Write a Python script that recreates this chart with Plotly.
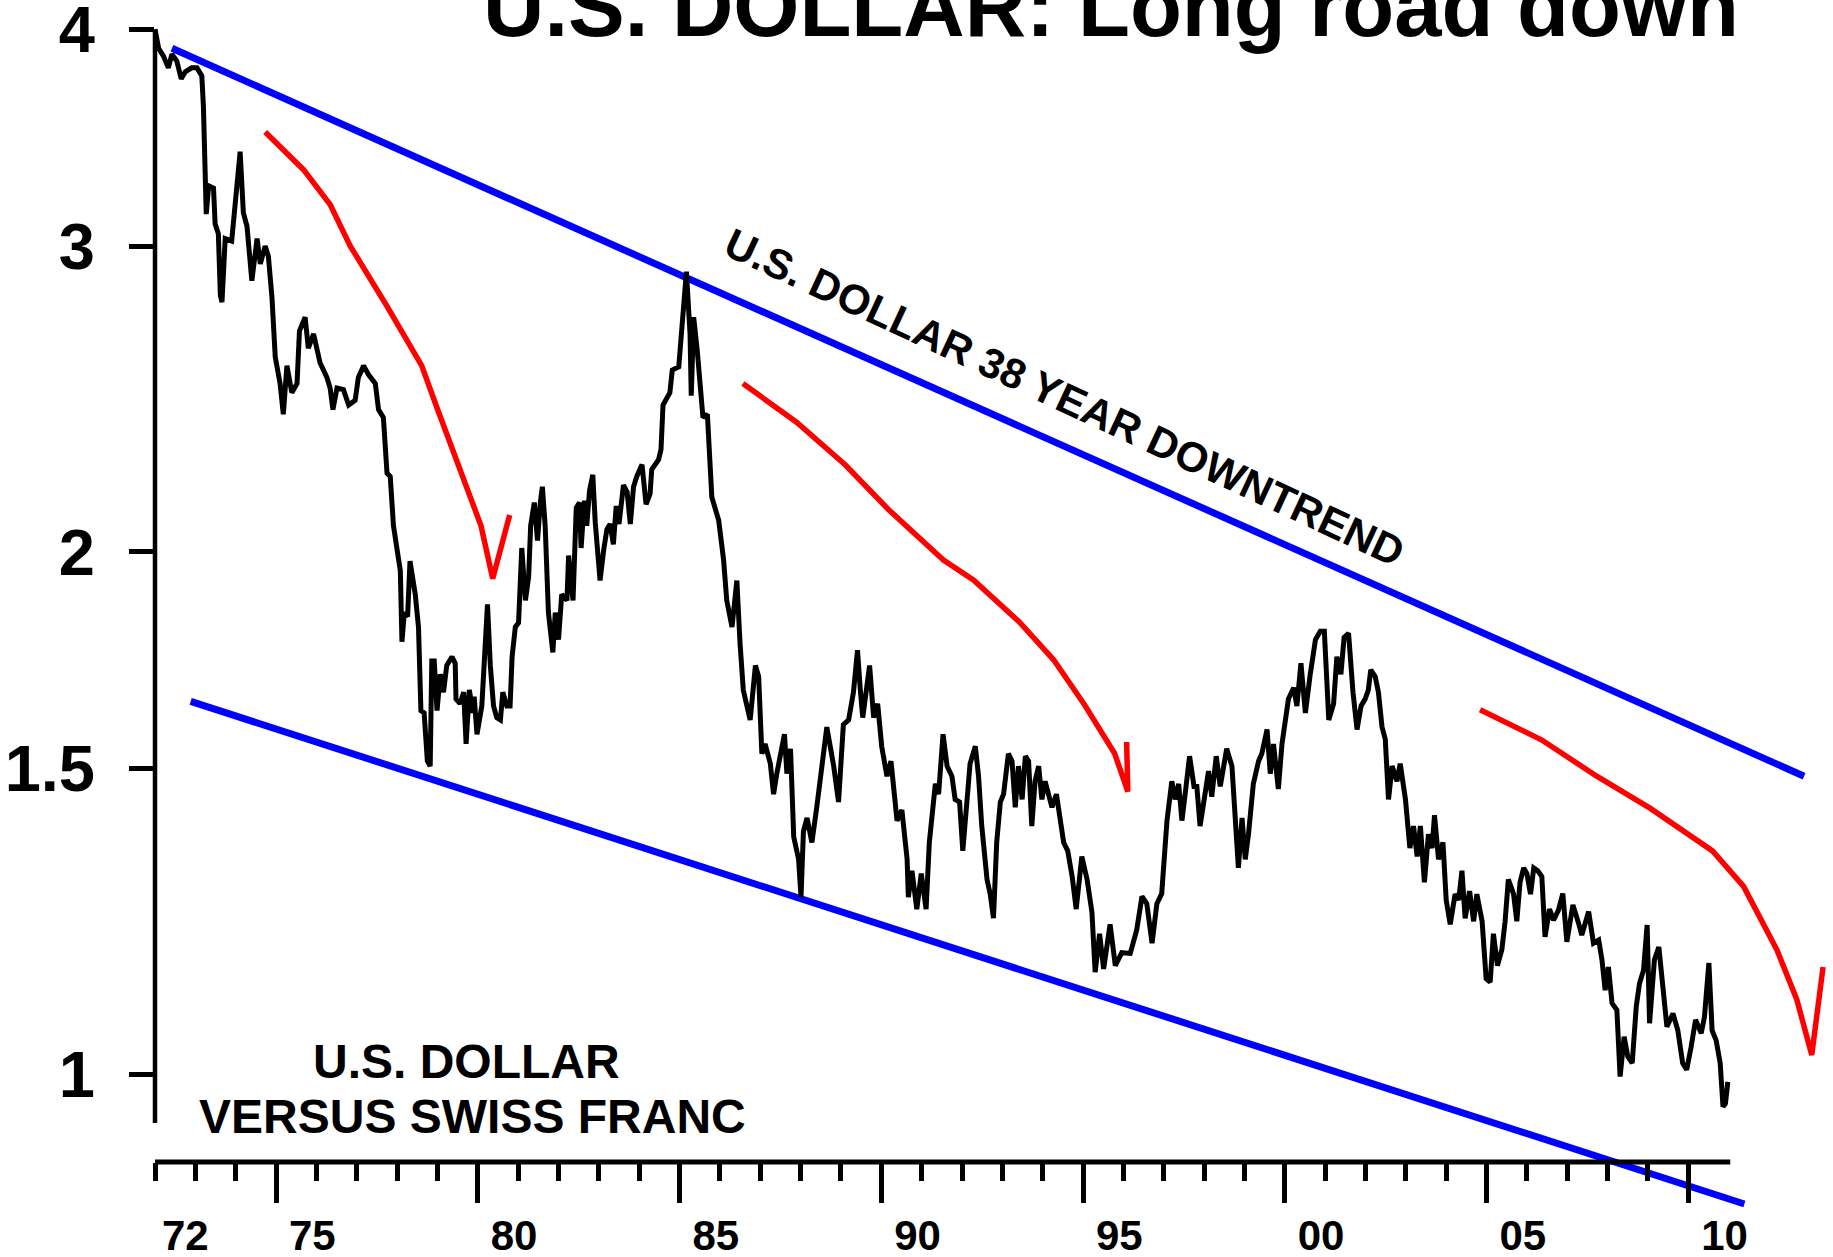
import math
import plotly.graph_objects as go

# ---------------- data ----------------
years = [
    1972.00, 1972.09, 1972.21, 1972.33, 1972.42, 1972.54, 1972.65, 1972.75, 1972.91, 1973.04,
    1973.16, 1973.20, 1973.27, 1973.33, 1973.45, 1973.49, 1973.57, 1973.62, 1973.66, 1973.74,
    1973.90, 1973.99, 1974.11, 1974.19, 1974.28, 1974.40, 1974.53, 1974.61, 1974.73, 1974.81,
    1974.90, 1974.98, 1975.10, 1975.18, 1975.27, 1975.39, 1975.52, 1975.58, 1975.72, 1975.80,
    1975.93, 1976.09, 1976.26, 1976.34, 1976.41, 1976.51, 1976.67, 1976.80, 1976.96, 1977.04,
    1977.17, 1977.29, 1977.46, 1977.54, 1977.66, 1977.75, 1977.83, 1977.91, 1977.99, 1978.08,
    1978.12, 1978.18, 1978.26, 1978.32, 1978.45, 1978.53, 1978.59, 1978.67, 1978.75, 1978.82,
    1978.86, 1978.92, 1978.99, 1979.07, 1979.15, 1979.23, 1979.36, 1979.44, 1979.46, 1979.56,
    1979.65, 1979.71, 1979.79, 1979.88, 1979.91, 1979.98, 1980.10, 1980.16, 1980.24, 1980.31,
    1980.39, 1980.47, 1980.56, 1980.62, 1980.72, 1980.80, 1980.85, 1980.93, 1981.01, 1981.09,
    1981.18, 1981.26, 1981.31, 1981.40, 1981.48, 1981.55, 1981.60, 1981.67, 1981.71, 1981.75,
    1981.86, 1981.92, 1982.00, 1982.08, 1982.21, 1982.25, 1982.36, 1982.44, 1982.52, 1982.56,
    1982.64, 1982.70, 1982.77, 1982.85, 1982.91, 1982.99, 1983.03, 1983.12, 1983.20, 1983.28,
    1983.36, 1983.43, 1983.50, 1983.61, 1983.70, 1983.78, 1983.86, 1983.94, 1984.07, 1984.17,
    1984.27, 1984.31, 1984.48, 1984.54, 1984.59, 1984.76, 1984.82, 1984.98, 1985.09, 1985.17,
    1985.26, 1985.29, 1985.35, 1985.44, 1985.58, 1985.69, 1985.80, 1985.97, 1986.09, 1986.17,
    1986.30, 1986.42, 1986.50, 1986.58, 1986.67, 1986.75, 1986.88, 1986.96, 1987.04, 1987.12,
    1987.25, 1987.33, 1987.41, 1987.50, 1987.60, 1987.66, 1987.75, 1987.83, 1987.95, 1988.01,
    1988.07, 1988.16, 1988.28, 1988.40, 1988.53, 1988.65, 1988.82, 1988.94, 1989.06, 1989.19,
    1989.31, 1989.41, 1989.48, 1989.54, 1989.71, 1989.81, 1989.91, 1990.01, 1990.14, 1990.24,
    1990.39, 1990.51, 1990.64, 1990.67, 1990.76, 1990.88, 1990.99, 1991.11, 1991.19, 1991.28,
    1991.34, 1991.42, 1991.53, 1991.63, 1991.75, 1991.83, 1991.94, 1992.02, 1992.12, 1992.20,
    1992.33, 1992.41, 1992.49, 1992.62, 1992.70, 1992.78, 1992.86, 1992.95, 1993.03, 1993.15,
    1993.24, 1993.32, 1993.40, 1993.49, 1993.57, 1993.65, 1993.73, 1993.81, 1993.90, 1993.98,
    1994.06, 1994.23, 1994.34, 1994.43, 1994.52, 1994.62, 1994.73, 1994.83, 1994.97, 1995.10,
    1995.22, 1995.30, 1995.41, 1995.51, 1995.67, 1995.80, 1995.96, 1996.17, 1996.33, 1996.46,
    1996.58, 1996.71, 1996.83, 1996.95, 1997.08, 1997.20, 1997.28, 1997.37, 1997.45, 1997.53,
    1997.64, 1997.75, 1997.82, 1997.90, 1998.00, 1998.11, 1998.19, 1998.30, 1998.40, 1998.56,
    1998.69, 1998.77, 1998.85, 1998.94, 1999.02, 1999.10, 1999.22, 1999.35, 1999.43, 1999.56,
    1999.64, 1999.72, 1999.84, 1999.93, 2000.01, 2000.09, 2000.22, 2000.30, 2000.40, 2000.51,
    2000.63, 2000.76, 2000.88, 2000.98, 2001.09, 2001.21, 2001.29, 2001.39, 2001.47, 2001.58,
    2001.69, 2001.79, 2001.89, 2001.99, 2002.07, 2002.13, 2002.24, 2002.32, 2002.41, 2002.49,
    2002.57, 2002.66, 2002.78, 2002.86, 2002.99, 2003.10, 2003.19, 2003.28, 2003.36, 2003.46,
    2003.56, 2003.65, 2003.71, 2003.81, 2003.92, 2004.00, 2004.10, 2004.22, 2004.31, 2004.39,
    2004.47, 2004.58, 2004.68, 2004.76, 2004.89, 2004.99, 2005.09, 2005.17, 2005.27, 2005.38,
    2005.46, 2005.54, 2005.67, 2005.75, 2005.83, 2005.92, 2006.00, 2006.09, 2006.17, 2006.27,
    2006.37, 2006.45, 2006.56, 2006.66, 2006.78, 2006.89, 2006.99, 2007.14, 2007.28, 2007.36,
    2007.53, 2007.65, 2007.78, 2007.86, 2007.94, 2008.02, 2008.11, 2008.23, 2008.31, 2008.41,
    2008.50, 2008.61, 2008.71, 2008.79, 2008.89, 2008.98, 2009.04, 2009.16, 2009.27, 2009.37,
    2009.47, 2009.62, 2009.74, 2009.86, 2009.96, 2010.07, 2010.18, 2010.32, 2010.40, 2010.51,
    2010.59, 2010.69, 2010.79, 2010.86, 2010.92, 2010.98,
]
usd_chf = [
    4.00, 3.90, 3.86, 3.80, 3.87, 3.835, 3.745, 3.78, 3.80, 3.80,
    3.76, 3.61, 3.13, 3.25, 3.24, 3.09, 3.05, 2.81, 2.785, 3.03,
    3.02, 3.195, 3.40, 3.135, 3.08, 2.865, 3.03, 2.93, 3.00, 2.96,
    2.80, 2.59, 2.50, 2.40, 2.56, 2.47, 2.50, 2.68, 2.73, 2.62,
    2.67, 2.57, 2.52, 2.485, 2.415, 2.485, 2.48, 2.43, 2.445, 2.52,
    2.56, 2.53, 2.50, 2.415, 2.39, 2.22, 2.21, 2.07, 2.00, 1.95,
    1.775, 1.845, 1.835, 1.975, 1.89, 1.81, 1.62, 1.615, 1.515, 1.505,
    1.73, 1.73, 1.62, 1.70, 1.66, 1.72, 1.74, 1.725, 1.645, 1.635,
    1.66, 1.55, 1.665, 1.615, 1.65, 1.57, 1.63, 1.72, 1.865, 1.72,
    1.63, 1.605, 1.60, 1.66, 1.63, 1.63, 1.74, 1.81, 1.82, 2.01,
    1.875, 1.935, 2.07, 2.135, 2.03, 2.135, 2.18, 2.07, 1.95, 1.845,
    1.75, 1.845, 1.78, 1.89, 1.875, 1.99, 1.875, 2.12, 2.135, 2.01,
    2.14, 2.07, 2.17, 2.215, 2.08, 1.98, 1.925, 2.005, 2.06, 2.075,
    2.02, 2.125, 2.075, 2.185, 2.165, 2.075, 2.18, 2.21, 2.245, 2.13,
    2.16, 2.23, 2.26, 2.29, 2.43, 2.47, 2.545, 2.556, 2.73, 2.90,
    2.67, 2.46, 2.73, 2.61, 2.39, 2.40, 2.15, 2.085, 1.98, 1.875,
    1.81, 1.925, 1.77, 1.665, 1.63, 1.60, 1.72, 1.695, 1.53, 1.55,
    1.51, 1.45, 1.49, 1.525, 1.57, 1.49, 1.54, 1.37, 1.33, 1.265,
    1.38, 1.405, 1.36, 1.425, 1.505, 1.585, 1.505, 1.435, 1.59, 1.60,
    1.66, 1.755, 1.665, 1.605, 1.72, 1.605, 1.635, 1.545, 1.485, 1.515,
    1.40, 1.42, 1.33, 1.265, 1.31, 1.245, 1.305, 1.245, 1.36, 1.44,
    1.47, 1.45, 1.57, 1.505, 1.485, 1.44, 1.435, 1.345, 1.44, 1.51,
    1.545, 1.485, 1.39, 1.295, 1.27, 1.23, 1.36, 1.435, 1.45, 1.53,
    1.515, 1.425, 1.505, 1.44, 1.525, 1.515, 1.39, 1.475, 1.505, 1.44,
    1.475, 1.425, 1.45, 1.41, 1.36, 1.345, 1.30, 1.245, 1.335, 1.295,
    1.24, 1.145, 1.205, 1.15, 1.22, 1.155, 1.175, 1.174, 1.211, 1.266,
    1.254, 1.19, 1.254, 1.271, 1.40, 1.475, 1.44, 1.47, 1.40, 1.45,
    1.525, 1.465, 1.465, 1.39, 1.435, 1.495, 1.445, 1.525, 1.465, 1.54,
    1.505, 1.39, 1.315, 1.405, 1.33, 1.375, 1.47, 1.515, 1.53, 1.58,
    1.49, 1.55, 1.46, 1.55, 1.595, 1.645, 1.67, 1.63, 1.725, 1.615,
    1.70, 1.78, 1.80, 1.80, 1.60, 1.635, 1.74, 1.70, 1.785, 1.795,
    1.66, 1.58, 1.63, 1.645, 1.665, 1.71, 1.695, 1.66, 1.585, 1.56,
    1.44, 1.505, 1.475, 1.51, 1.44, 1.35, 1.39, 1.335, 1.39, 1.29,
    1.375, 1.35, 1.41, 1.33, 1.36, 1.26, 1.22, 1.27, 1.26, 1.31,
    1.23, 1.275, 1.225, 1.27, 1.225, 1.135, 1.13, 1.205, 1.155, 1.18,
    1.225, 1.295, 1.27, 1.225, 1.29, 1.315, 1.305, 1.27, 1.315, 1.31,
    1.30, 1.20, 1.245, 1.227, 1.243, 1.271, 1.192, 1.252, 1.222, 1.203,
    1.241, 1.19, 1.195, 1.164, 1.118, 1.153, 1.099, 1.089, 0.997, 1.051,
    1.024, 1.015, 1.094, 1.128, 1.148, 1.219, 1.07, 1.164, 1.184, 1.128,
    1.065, 1.084, 1.06, 1.015, 1.006, 1.037, 1.075, 1.056, 1.079, 1.159,
    1.06, 1.046, 1.015, 0.958, 0.962, 0.99,
]

upper_trend_years = [1972.42, 2012.87]
upper_trend_vals = [3.90, 1.485]
lower_trend_years = [1972.885, 2011.39]
lower_trend_vals = [1.64, 0.842]

red1_years = [1974.73, 1975.68, 1976.34, 1976.84, 1977.75, 1978.61, 1978.99, 1979.44, 1980.08, 1980.37, 1980.79]
red1_vals = [3.49, 3.32, 3.17, 3.00, 2.77, 2.56, 2.42, 2.27, 2.07, 1.93, 2.10]
red2_years = [1986.57, 1987.90, 1989.11, 1990.17, 1991.54, 1992.29, 1993.42, 1994.27, 1995.04, 1995.78, 1996.11, 1996.08]
red2_vals = [2.50, 2.375, 2.244, 2.116, 1.978, 1.926, 1.822, 1.733, 1.632, 1.531, 1.455, 1.554]
red3_years = [2004.84, 2006.37, 2007.73, 2009.06, 2010.60, 2011.37, 2012.20, 2012.69, 2013.06, 2013.34]
red3_vals = [1.622, 1.558, 1.485, 1.423, 1.345, 1.283, 1.179, 1.104, 1.026, 1.153]

y_tick_vals = [1, 1.5, 2, 3, 4]
y_tick_text = ["1", "1.5", "2", "3", "4"]
x_major_ticks = [1975, 1980, 1985, 1990, 1995, 2000, 2005, 2010]
x_minor_ticks = list(range(1972, 2011))
x_label_pos = [1972.75, 1975.9, 1980.9, 1985.9, 1990.9, 1995.9, 2000.9, 2005.9, 2010.9]
x_label_text = ["72", "75", "80", "85", "90", "95", "00", "05", "10"]

title_text = "U.S. DOLLAR: Long road down"
trend_text = "U.S. DOLLAR 38 YEAR DOWNTREND"
label_line1 = "U.S. DOLLAR"
label_line2 = "VERSUS SWISS FRANC"

# ---------------- layout geometry ----------------
W, H = 1833, 1257
ML, MR, MT, MB = 155, 0, 0, 42
PW = W - ML - MR
PH = H - MT - MB
PX_PER_YEAR = 40.35
X_RANGE = [1972.0, 1972.0 + PW / PX_PER_YEAR]
Y_RANGE = [-0.08105, 0.61888]
AXIS_END_YEAR = 2011.04
Y_AXIS_BOTTOM = 0.9375

FONT = "Liberation Sans, Arial, Helvetica, sans-serif"
BLACK, BLUE, RED = "#000000", "#0000ff", "#ff0000"


def px_x(X):
    return (X - ML) / PW


def px_y(Y):
    return 1 - (Y - MT) / PH


def val_y(v):
    return (math.log10(v) - Y_RANGE[0]) / (Y_RANGE[1] - Y_RANGE[0])


x_axis_pos = px_y(1162)

fig = go.Figure()
fig.add_trace(go.Scatter(x=upper_trend_years, y=upper_trend_vals, mode="lines",
                         line=dict(color=BLUE, width=7), hoverinfo="skip", showlegend=False))
fig.add_trace(go.Scatter(x=lower_trend_years, y=lower_trend_vals, mode="lines",
                         line=dict(color=BLUE, width=7), hoverinfo="skip", showlegend=False))
for ry, rv in ((red1_years, red1_vals), (red2_years, red2_vals), (red3_years, red3_vals)):
    fig.add_trace(go.Scatter(x=ry, y=rv, mode="lines",
                             line=dict(color=RED, width=5.5, shape="linear"),
                             hoverinfo="skip", showlegend=False))
fig.add_trace(go.Scatter(x=years, y=usd_chf, mode="lines",
                         line=dict(color=BLACK, width=5), showlegend=False))
# invisible carrier so the label axis (x2) is drawn
fig.add_trace(go.Scatter(x=x_label_pos, y=[None] * len(x_label_pos), xaxis="x2", yaxis="y",
                         mode="lines", hoverinfo="skip", showlegend=False))

fig.update_layout(
    width=W, height=H,
    margin=dict(l=ML, r=MR, t=MT, b=MB, pad=0, autoexpand=False),
    paper_bgcolor="white", plot_bgcolor="white",
    font=dict(family=FONT, color=BLACK),
    xaxis=dict(
        range=X_RANGE, anchor="free", position=x_axis_pos, automargin=False,
        showgrid=False, zeroline=False, showline=False,
        tickmode="array", tickvals=x_major_ticks,
        ticks="outside", ticklen=40, tickwidth=4.5, tickcolor=BLACK,
        showticklabels=False,
        minor=dict(tickmode="array", tickvals=x_minor_ticks, ticks="outside",
                   ticklen=18, tickwidth=4.5, tickcolor=BLACK, showgrid=False),
    ),
    xaxis2=dict(
        range=X_RANGE, overlaying="x", anchor="free", position=x_axis_pos, automargin=False,
        showgrid=False, zeroline=False, showline=False,
        tickmode="array", tickvals=x_label_pos, ticktext=x_label_text,
        ticks="", ticklabelstandoff=45, ticklabeloverflow="allow",
        tickfont=dict(family=FONT, size=42, color=BLACK, weight="bold"),
    ),
    yaxis=dict(
        type="log", range=Y_RANGE, automargin=False,
        showgrid=False, zeroline=False, showline=False,
        tickmode="array", tickvals=y_tick_vals, ticktext=y_tick_text,
        ticks="outside", ticklen=25, tickwidth=4.5, tickcolor=BLACK,
        ticklabelstandoff=21, ticklabeloverflow="allow",
        tickfont=dict(family=FONT, size=65, color=BLACK, weight="bold"),
    ),
    shapes=[
        dict(type="line", xref="paper", yref="paper", x0=0, x1=0,
             y0=val_y(Y_AXIS_BOTTOM), y1=val_y(4), line=dict(color=BLACK, width=4.5)),
        dict(type="line", xref="x", yref="paper", x0=1972.0, x1=AXIS_END_YEAR,
             y0=x_axis_pos, y1=x_axis_pos, line=dict(color=BLACK, width=5)),
    ],
    annotations=[
        dict(text=title_text, xref="paper", yref="paper", x=px_x(1111), y=px_y(6.0),
             xanchor="center", yanchor="middle", showarrow=False,
             font=dict(family=FONT, size=85, color=BLACK, weight="bold")),
        dict(text=label_line1, xref="paper", yref="paper", x=px_x(466.4), y=px_y(1061.7),
             xanchor="center", yanchor="middle", showarrow=False,
             font=dict(family=FONT, size=48, color=BLACK, weight="bold")),
        dict(text=label_line2, xref="paper", yref="paper", x=px_x(472.7), y=px_y(1116.7),
             xanchor="center", yanchor="middle", showarrow=False,
             font=dict(family=FONT, size=48, color=BLACK, weight="bold")),
        dict(text=trend_text, xref="paper", yref="paper", x=px_x(1065), y=px_y(397),
             xanchor="center", yanchor="middle", textangle=25, showarrow=False,
             font=dict(family=FONT, size=42, color=BLACK, weight="bold")),
    ],
)

fig.write_html(
    "out.html",
    config={"displayModeBar": False},
    post_script="document.body.style.margin='0';document.body.style.overflow='hidden';",
)
